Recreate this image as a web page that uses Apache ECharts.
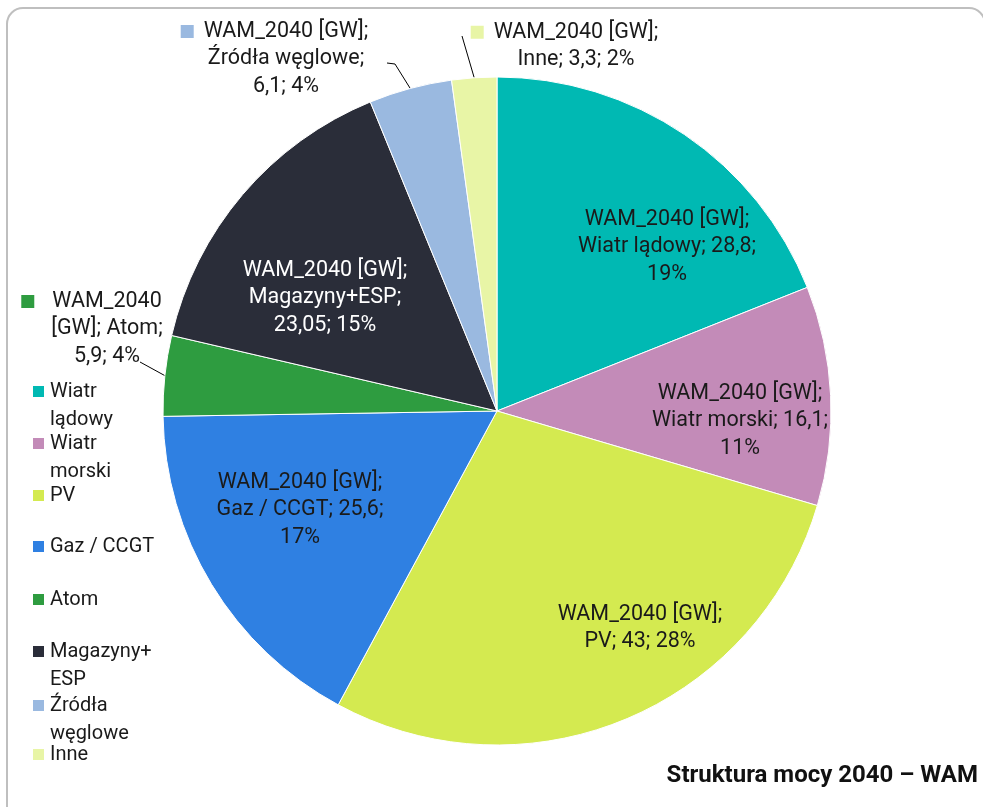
<!DOCTYPE html>
<html>
<head>
<meta charset="utf-8">
<script src="https://cdn.jsdelivr.net/npm/echarts@6/dist/echarts.min.js"></script>
<style>
  html, body { margin: 0; background: #fff; }
  #main { width: 983px; height: 807px; }
</style>
</head>
<body>
<div id="main"></div>
<script>
var seriesName = 'WAM_2040 [GW]';
var categories = ['Wiatr lądowy', 'Wiatr morski', 'PV', 'Gaz / CCGT', 'Atom', 'Magazyny+ESP', 'Źródła węglowe', 'Inne'];
var values = [28.8, 16.1, 43, 25.6, 5.9, 23.05, 6.1, 3.3];
var percents = [19, 11, 28, 17, 4, 15, 4, 2];
var legendNames = ['Wiatr\nlądowy', 'Wiatr\nmorski', 'PV', 'Gaz / CCGT', 'Atom', 'Magazyny+\nESP', 'Źródła\nwęglowe', 'Inne'];

var colors = ['#00b9b3', '#c38bb8', '#d4ea50', '#2f80e2', '#2e9c40', '#2a2d39', '#9ab9e0', '#e8f5a6'];
var labelColors = ['#1a1a1a', '#1a1a1a', '#1a1a1a', '#1a1a1a', '#1a1a1a', '#ffffff', '#1a1a1a', '#1a1a1a'];

// how Excel wrapped each data label
var wrap = ['nv|p', 'nv|p', 'nvp', 'nv|p', 'atom', 'n|vp', 'n|vp', 'nvp'];
var outside = [false, false, false, false, true, false, true, true];
// label centres and leader line ends (pixels)
var labelPos = [[667, 247], [740, 421], [640, 628], [300, 510], [107, 329], [325, 298], [286, 59], [576, 46]];
var lineEnds = { 4: [[140, 362], [140, 362]], 6: [[395, 64], [387, 63]], 7: [[462, 36], [462, 36]] };
var legendIconTop = [385, 437, 489, 540, 593, 645, 699, 748];

var font = 'Roboto, "Noto Sans", sans-serif';

function fmt(v) { return String(v).replace('.', ','); }

function labelText(i) {
  var n = categories[i], v = fmt(values[i]), p = percents[i] + '%';
  // legend key hangs left of the first line, balanced by an empty token on the right
  var key = outside[i] ? '{k|}{g|}' : '', tail = outside[i] ? '{e|}' : '';
  if (wrap[i] === 'atom') return key + 'WAM_2040' + tail + '\n[GW]; ' + n + ';\n' + v + '; ' + p;
  if (wrap[i] === 'nv|p') return key + seriesName + ';' + tail + '\n' + n + '; ' + v + ';\n' + p;
  if (wrap[i] === 'n|vp') return key + seriesName + ';' + tail + '\n' + n + ';\n' + v + '; ' + p;
  return key + seriesName + ';' + tail + '\n' + n + '; ' + v + '; ' + p;
}

var pieData = categories.map(function (c, i) {
  var gap = wrap[i] === 'atom' ? 18 : 10;
  return {
    name: c,
    value: values[i],
    itemStyle: { color: colors[i] },
    label: {
      position: outside[i] ? 'outside' : 'inside',
      color: labelColors[i],
      overflow: 'none',
      formatter: labelText(i),
      rich: {
        k: { width: 13, height: 13, backgroundColor: colors[i] },
        g: { width: gap },
        e: { width: 13 + gap }
      }
    },
    labelLine: { show: outside[i] }
  };
});

var legends = categories.map(function (c, i) {
  var twoLines = legendNames[i].indexOf('\n') >= 0;
  var c0 = legendIconTop[i] + 6.5;
  return {
    data: [c],
    orient: 'vertical',
    left: 31,
    top: twoLines ? c0 - 42 : c0 - 14,
    padding: 0,
    itemWidth: 13,
    itemHeight: 13,
    icon: 'rect',
    selectedMode: false,
    // a blank first line keeps the icon level with the first line of text
    formatter: function () { return twoLines ? ' \n' + legendNames[i] : legendNames[i]; },
    textStyle: { fontFamily: font, fontSize: 20, color: '#1a1a1a', lineHeight: 28 }
  };
});

var myChart = echarts.init(document.getElementById('main'));
var option = {
  backgroundColor: '#fff',
  animation: false,
  title: {
    text: 'Struktura mocy 2040 – WAM',
    right: 0,
    top: 759,
    textStyle: { fontFamily: font, fontSize: 24, fontWeight: 'bold', color: '#111' }
  },
  legend: legends,
  graphic: [{
    type: 'rect',
    shape: { x: 7, y: 8, width: 978, height: 830, r: 16 },
    style: { fill: 'none', stroke: '#bfbfbf', lineWidth: 2 },
    silent: true
  }],
  series: [{
    name: seriesName,
    type: 'pie',
    center: [497, 411],
    radius: 334,
    startAngle: 90,
    clockwise: true,
    itemStyle: { borderColor: '#fff', borderWidth: 1 },
    label: {
      fontFamily: font, fontSize: 21.5, color: '#1a1a1a', lineHeight: 27.5, align: 'center',
      overflow: 'none'
    },
    labelLine: { lineStyle: { color: '#000', width: 1 }, length: 10, length2: 10 },
    labelLayout: function (params) {
      var i = params.dataIndex;
      var out = { x: labelPos[i][0], y: labelPos[i][1], align: 'center', verticalAlign: 'middle' };
      if (lineEnds[i] && params.labelLinePoints) {
        out.labelLinePoints = [params.labelLinePoints[0], lineEnds[i][0], lineEnds[i][1]];
      }
      return out;
    },
    emphasis: { disabled: true },
    data: pieData
  }]
};
option && myChart.setOption(option);
</script>
</body>
</html>
